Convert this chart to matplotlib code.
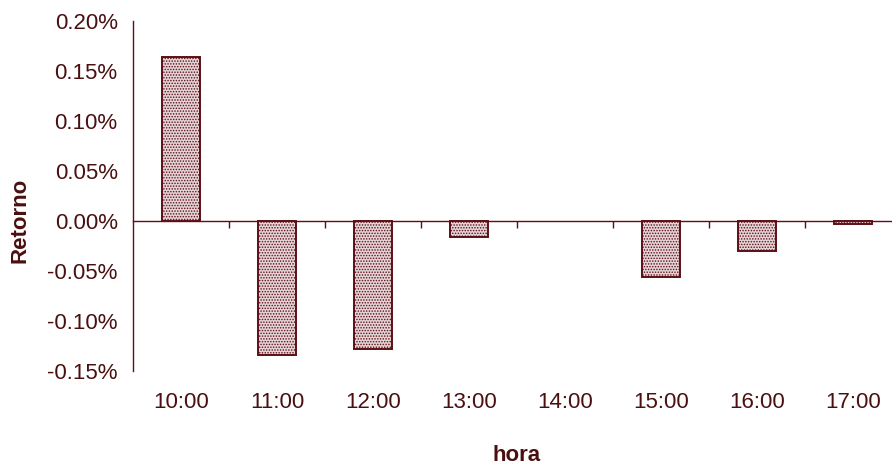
import matplotlib.pyplot as plt
import numpy as np

plt.rcParams["font.family"] = ["Liberation Sans", "DejaVu Sans"]
plt.rcParams["hatch.color"] = "#8c6066"
plt.rcParams["hatch.linewidth"] = 0.7

HOURS = ["10:00", "11:00", "12:00", "13:00", "14:00", "15:00", "16:00", "17:00"]
RETURNS = [0.164, -0.134, -0.128, -0.016, 0.0, -0.056, -0.030, -0.003]  # percent
Y_TICKS = [-0.15, -0.10, -0.05, 0.0, 0.05, 0.10, 0.15, 0.20]

DARK = "#5c0f14"
TEXT = "#4a1010"

fig = plt.figure(figsize=(8.92, 4.67), dpi=100)
ax = fig.add_axes([133 / 892, 96 / 467, 768 / 892, 350 / 467])

x = np.arange(len(HOURS))
bars = ax.bar(x, RETURNS, width=0.39, facecolor="#e4d3d6", edgecolor=DARK,
              linewidth=1.4, hatch="......", zorder=3)
for b, v in zip(bars, RETURNS):
    if v == 0:
        b.set_visible(False)

ax.set_xlim(-0.5, len(HOURS) - 0.5)
ax.set_ylim(-0.15, 0.20)

ax.set_yticks(Y_TICKS)
ax.set_yticklabels([f"{v:.2f}%" for v in Y_TICKS], fontsize=16, color=TEXT)
ax.tick_params(axis="y", length=0, pad=11)

# x axis drawn along zero, ticks between categories
ax.spines["bottom"].set_position(("data", 0))
ax.spines["bottom"].set_color(DARK)
ax.spines["bottom"].set_linewidth(1.0)
ax.spines["left"].set_color(DARK)
ax.spines["left"].set_linewidth(1.0)
ax.spines["right"].set_visible(False)
ax.spines["top"].set_visible(False)
ax.set_xticks(x[:-1] + 0.5)
ax.set_xticklabels([])
ax.tick_params(axis="x", direction="out", length=5, width=1.0, color=DARK)

for xi, label in zip(x, HOURS):
    ax.annotate(label, xy=(xi, 0), xycoords=("data", "axes fraction"),
                xytext=(0, -23), textcoords="offset points",
                ha="center", va="center", fontsize=16, color=TEXT)

ax.annotate("hora", xy=(0.5, 0), xycoords="axes fraction",
            xytext=(0, -61), textcoords="offset points",
            ha="center", va="center", fontsize=16, fontweight="bold", color=TEXT)
fig.text(20 / 892, (467 - 220) / 467, "Retorno", rotation=90, ha="center",
         va="center", fontsize=16, fontweight="bold", color=TEXT)

fig.savefig("out.png", dpi=100)
